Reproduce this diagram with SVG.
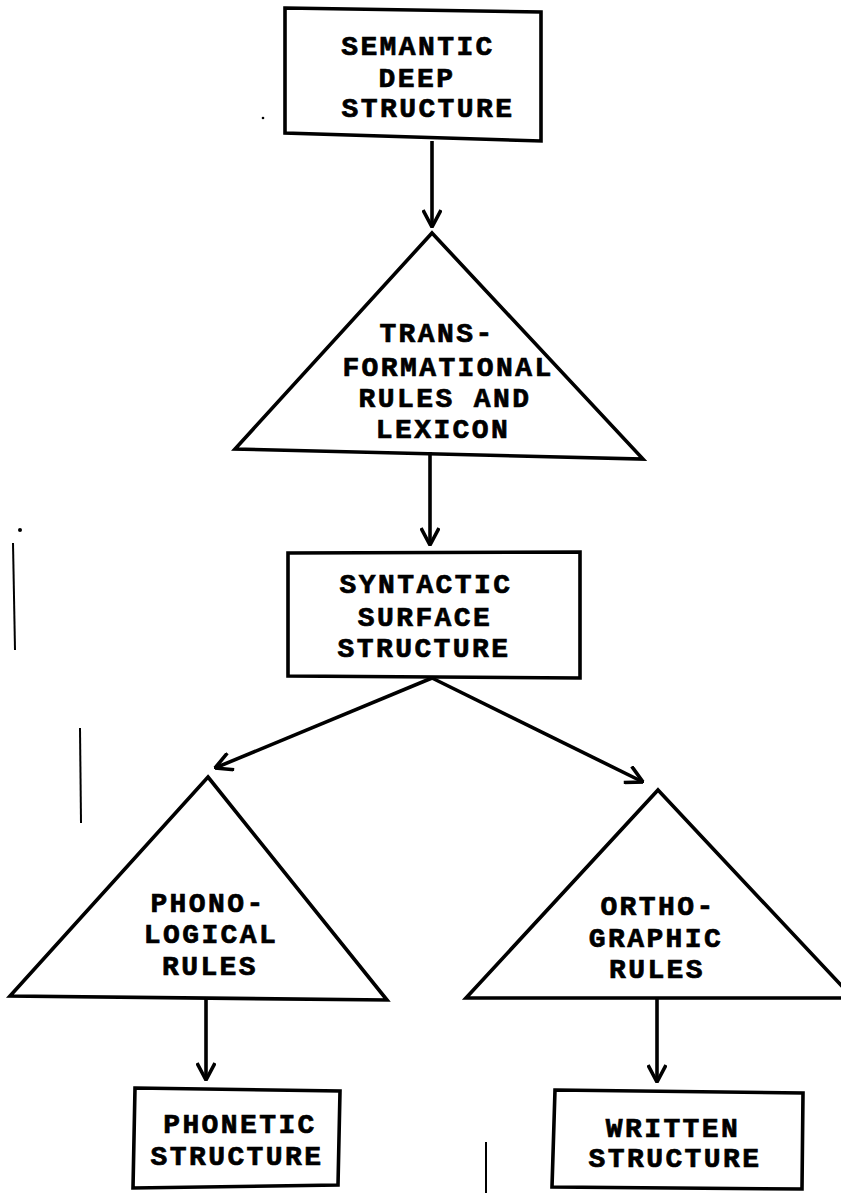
<svg xmlns="http://www.w3.org/2000/svg" width="841" height="1193" viewBox="0 0 841 1193">
<style>
  .shape { fill: none; stroke: #000; stroke-width: 3.6; stroke-linejoin: miter; }
  .conn { fill: none; stroke: #000; stroke-width: 3.6; }
  .lbl { font-family: "Liberation Mono", "Courier New", monospace; font-weight: bold; font-size: 28px; letter-spacing: 2.4px; fill: #000; stroke: #000; stroke-width: 0.7px; text-anchor: middle; }
  .stray { stroke: #000; stroke-width: 2; }
</style>
<defs>
  <marker id="arr" viewBox="0 0 20 20" refX="19" refY="10" markerWidth="20" markerHeight="20" markerUnits="userSpaceOnUse" orient="auto">
    <path d="M2,1 L19,10 L2,19" fill="none" stroke="#000" stroke-width="3.6"/>
  </marker>
</defs>
<rect width="841" height="1193" fill="#fff"/>

<g id="semantic-deep-structure">
  <path class="shape" d="M285,8 L541,12 L541,141 L285,133 Z"/>
  <text class="lbl" x="418" y="55">SEMANTIC</text>
  <text class="lbl" x="417" y="87">DEEP</text>
  <text class="lbl" x="428" y="117">STRUCTURE</text>
</g>

<g id="transformational-rules">
  <path class="shape" d="M432,233 L643,459 L235,449 Z"/>
  <text class="lbl" x="437" y="342">TRANS-</text>
  <text class="lbl" x="448" y="376">FORMATIONAL</text>
  <text class="lbl" x="445" y="407">RULES AND</text>
  <text class="lbl" x="443" y="438">LEXICON</text>
</g>

<g id="syntactic-surface-structure">
  <path class="shape" d="M288,553 L580,552 L580,678 L288,676 Z"/>
  <text class="lbl" x="426" y="593">SYNTACTIC</text>
  <text class="lbl" x="425" y="626">SURFACE</text>
  <text class="lbl" x="424" y="657">STRUCTURE</text>
</g>

<g id="phonological-rules">
  <path class="shape" d="M208,777 L387,1000 L10,996 Z"/>
  <text class="lbl" x="208" y="912">PHONO-</text>
  <text class="lbl" x="211" y="943">LOGICAL</text>
  <text class="lbl" x="210" y="975">RULES</text>
</g>

<g id="orthographic-rules">
  <path class="shape" d="M658,790 L853,998 L466,998 Z"/>
  <text class="lbl" x="658" y="915">ORTHO-</text>
  <text class="lbl" x="656" y="947">GRAPHIC</text>
  <text class="lbl" x="657" y="978">RULES</text>
</g>

<g id="phonetic-structure">
  <path class="shape" d="M135,1088 L340,1091 L338,1185 L133,1188 Z"/>
  <text class="lbl" x="240" y="1133">PHONETIC</text>
  <text class="lbl" x="237" y="1165">STRUCTURE</text>
</g>

<g id="written-structure">
  <path class="shape" d="M555,1090 L803,1093 L802,1189 L552,1187 Z"/>
  <text class="lbl" x="673" y="1137">WRITTEN</text>
  <text class="lbl" x="675" y="1167">STRUCTURE</text>
</g>

<g id="connectors">
  <line class="conn" x1="432" y1="141" x2="432" y2="227" marker-end="url(#arr)"/>
  <line class="conn" x1="430" y1="452" x2="430" y2="545" marker-end="url(#arr)"/>
  <line class="conn" x1="432" y1="678" x2="215" y2="768" marker-end="url(#arr)"/>
  <line class="conn" x1="432" y1="678" x2="643" y2="782" marker-end="url(#arr)"/>
  <line class="conn" x1="206" y1="999" x2="206" y2="1080" marker-end="url(#arr)"/>
  <line class="conn" x1="657" y1="998" x2="657" y2="1082" marker-end="url(#arr)"/>
</g>

<g id="marks">
  <line class="stray" x1="13" y1="543" x2="15" y2="650"/>
  <line class="stray" x1="80" y1="728" x2="81" y2="823"/>
  <line class="stray" x1="486" y1="1142" x2="486" y2="1193"/>
  <circle cx="20" cy="530" r="2" fill="#000"/>
  <circle cx="263" cy="118" r="1.3" fill="#000"/>
</g>
</svg>
